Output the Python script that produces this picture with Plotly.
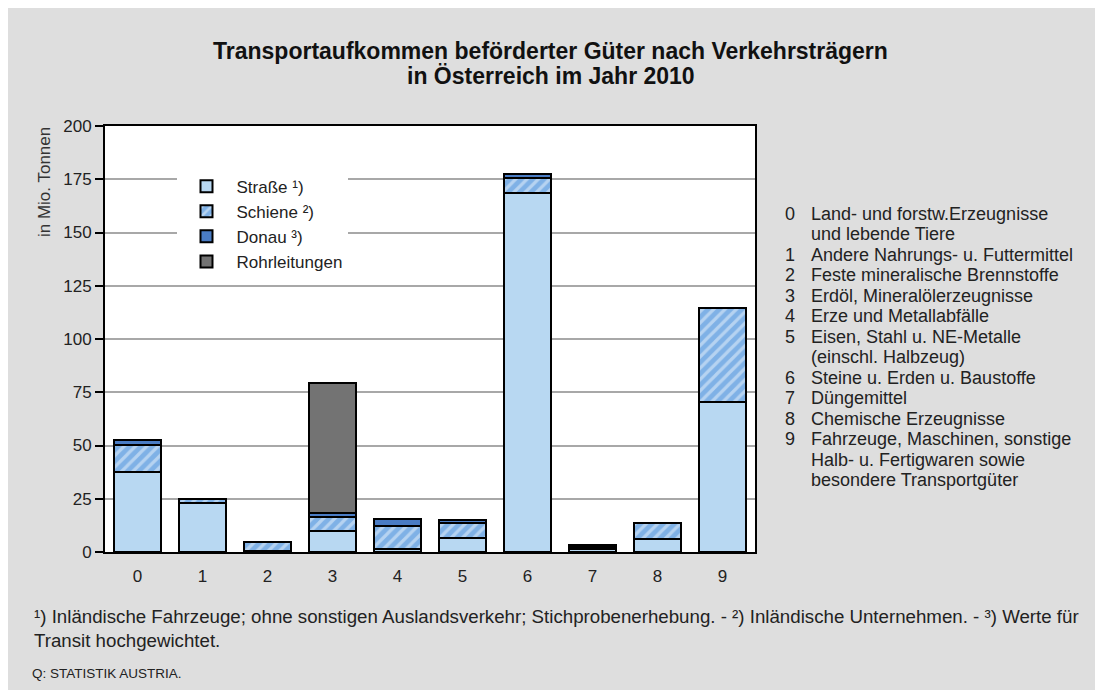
import plotly.graph_objects as go

# Gütergruppen (NST/R-Kapitel 0-9), Werte in Mio. Tonnen
kategorien = ["0", "1", "2", "3", "4", "5", "6", "7", "8", "9"]
strasse = [37.5, 23.0, 0.3, 10.0, 1.4, 6.7, 168.4, 1.3, 6.0, 70.6]
schiene = [12.9, 1.9, 4.6, 6.2, 11.0, 7.1, 7.1, 1.2, 7.5, 43.9]
donau = [2.3, None, None, 2.1, 3.2, 1.2, 1.9, 0.8, None, None]
rohrleitungen = [None, None, None, 60.9, None, None, None, None, None, None]

beschreibung_nr = ["0", "", "1", "2", "3", "4", "5", "", "6", "7", "8", "9", "", ""]
beschreibung_txt = [
    "Land- und forstw.Erzeugnisse",
    "und lebende Tiere",
    "Andere Nahrungs- u. Futtermittel",
    "Feste mineralische Brennstoffe",
    "Erdöl, Mineralölerzeugnisse",
    "Erze und Metallabfälle",
    "Eisen, Stahl u. NE-Metalle",
    "(einschl. Halbzeug)",
    "Steine u. Erden u. Baustoffe",
    "Düngemittel",
    "Chemische Erzeugnisse",
    "Fahrzeuge, Maschinen, sonstige",
    "Halb- u. Fertigwaren sowie",
    "besondere Transportgüter",
]

titel = ["Transportaufkommen beförderter Güter nach Verkehrsträgern",
         "in Österreich im Jahr 2010"]
fussnote = ("¹) Inländische Fahrzeuge; ohne sonstigen Auslandsverkehr; Stichprobenerhebung. - "
            "²) Inländische Unternehmen. - ³) Werte für<br>Transit hochgewichtet.")
quelle = "Q: STATISTIK AUSTRIA."

FONT = "Liberation Sans, Arial, sans-serif"
TXT = "#222222"
rand = dict(color="black", width=2)

fig = go.Figure()
fig.add_bar(x=kategorien, y=strasse, name="Straße ¹)",
            marker=dict(color="#b8d8f2", line=rand))
fig.add_bar(x=kategorien, y=schiene, name="Schiene ²)",
            marker=dict(color="#8ebdea", line=rand,
                        pattern=dict(shape="/", fgcolor="#eef5fc", bgcolor="#7fb1e6",
                                     size=8, solidity=0.4)))
fig.add_bar(x=kategorien, y=donau, name="Donau ³)",
            marker=dict(color="#4a7cc4", line=rand))
fig.add_bar(x=kategorien, y=rohrleitungen, name="Rohrleitungen",
            marker=dict(color="#737373", line=rand))

fig.update_layout(
    width=1103, height=690, autosize=False,
    barmode="stack", bargap=0.28,
    margin=dict(l=97, r=356, t=118, b=146),
    paper_bgcolor="#dedede", plot_bgcolor="white",
    font=dict(family=FONT, size=17, color="black"),
    legend=dict(
        x=0.11, y=0.9, xanchor="left", yanchor="top",
        bgcolor="white", borderwidth=0, traceorder="normal",
        itemwidth=50, font=dict(size=17, color=TXT),
    ),
    showlegend=True,
)

fig.update_xaxes(
    type="category", showline=True, linecolor="black", linewidth=2, mirror=True,
    ticks="outside", ticklen=8, tickcolor="rgba(0,0,0,0)",
    tickfont=dict(size=17, color=TXT), showgrid=False,
)
fig.update_yaxes(
    range=[0, 200], dtick=25, showline=True, linecolor="black", linewidth=2, mirror=True,
    ticks="outside", ticklen=8, tickwidth=2, tickcolor="black",
    showgrid=True, gridcolor="#a8a8a8", gridwidth=2, zeroline=False,
    tickfont=dict(size=17, color=TXT),
)

anm = []
# Titel (zwei Zeilen, fett)
for i, zeile in enumerate(titel):
    anm.append(dict(text="<b>" + zeile + "</b>", xref="paper", yref="paper",
                    x=0.686, y=1.176 - i * 0.059, xanchor="center", yanchor="middle",
                    showarrow=False, font=dict(size=23, color="#111111")))
# Achsentitel
anm.append(dict(text="in Mio. Tonnen", textangle=-90, xref="paper", yref="paper",
                x=-0.094, y=1.002, xanchor="center", yanchor="top", showarrow=False,
                font=dict(size=17, color="#333333")))
# Legende der Gütergruppen rechts
for i, (nr, txt) in enumerate(zip(beschreibung_nr, beschreibung_txt)):
    y = 0.7934 - i * 0.04803
    if nr:
        anm.append(dict(text=nr, xref="paper", yref="paper", x=1.043, y=y,
                        xanchor="left", yanchor="middle", showarrow=False,
                        font=dict(size=18, color=TXT)))
    anm.append(dict(text=txt, xref="paper", yref="paper", x=1.083, y=y,
                    xanchor="left", yanchor="middle", showarrow=False,
                    font=dict(size=18, color=TXT)))
# Fußnote und Quelle
anm.append(dict(text=fussnote, xref="paper", yref="paper", x=-0.112, y=-0.1796,
                xanchor="left", yanchor="middle", align="left", showarrow=False,
                font=dict(size=18.7, color=TXT)))
anm.append(dict(text=quelle, xref="paper", yref="paper", x=-0.115, y=-0.285,
                xanchor="left", yanchor="middle", align="left", showarrow=False,
                font=dict(size=13.5, color=TXT)))
fig.update_layout(annotations=anm)

fig.write_html("out.html")
